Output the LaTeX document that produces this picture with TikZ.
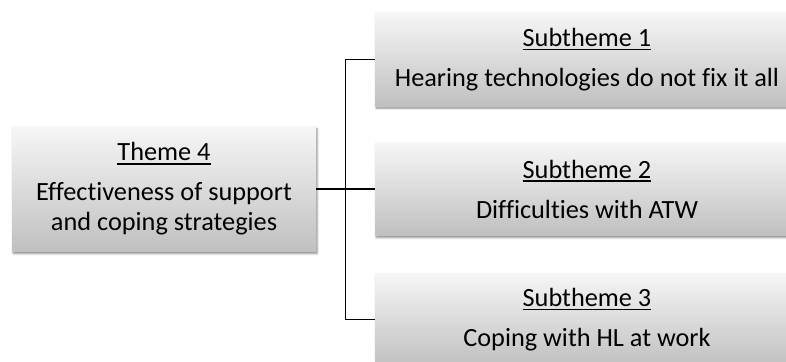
\documentclass[tikz,border=0pt]{standalone}
\usepackage{fontspec}
\setmainfont{Carlito}[Ligatures=NoCommon]
\usetikzlibrary{shadows.blur}

% heading with a solid underline a little below the baseline
\newcommand\ulhead[1]{\setbox0\hbox{#1}\rlap{\rule[-3.8pt]{\wd0}{1.4pt}}\box0}

\definecolor{boxtop}{HTML}{F6F6F6}
\definecolor{boxbot}{HTML}{C0C0C0}

\tikzset{
  themebox/.style={
    rectangle, inner sep=0pt, align=center,
    top color=boxtop, bottom color=boxbot, draw=none,
    blur shadow={shadow xshift=1.2pt, shadow yshift=-2.2pt,
                 shadow blur radius=2pt, shadow opacity=45},
    font=\fontsize{26.3}{30}\selectfont
  },
  link/.style={line width=1.8pt, black}
}

\begin{document}
\begin{tikzpicture}[x=1pt, y=-1pt]
  \useasboundingbox (0,0) rectangle (786,361);

  % main theme
  \node[themebox, minimum width=304pt, minimum height=125pt] (theme) at (164,189)
    {\ulhead{Theme 4}\\[10pt]Effectiveness of support\\and coping strategies};

  % subthemes (they run on past the right edge)
  \node[themebox, minimum width=424pt, minimum height=93pt] (sub1) at (587,59.5)
    {\ulhead{Subtheme 1}\\[10pt]Hearing technologies do not fix it all};
  \node[themebox, minimum width=424pt, minimum height=93pt] (sub2) at (587,189)
    {\ulhead{Subtheme 2}\\[10pt]Difficulties with ATW};
  \node[themebox, minimum width=424pt, minimum height=93pt] (sub3) at (587,319.5)
    {\ulhead{Subtheme 3}\\[10pt]Coping with HL at work};

  % bracket connectors
  \coordinate (fork) at (345.5,189);
  \draw[link] (theme.east) -- (theme.east -| sub2.west);
  \draw[link] (sub1.west) -| (fork) |- (sub3.west);
\end{tikzpicture}
\end{document}
